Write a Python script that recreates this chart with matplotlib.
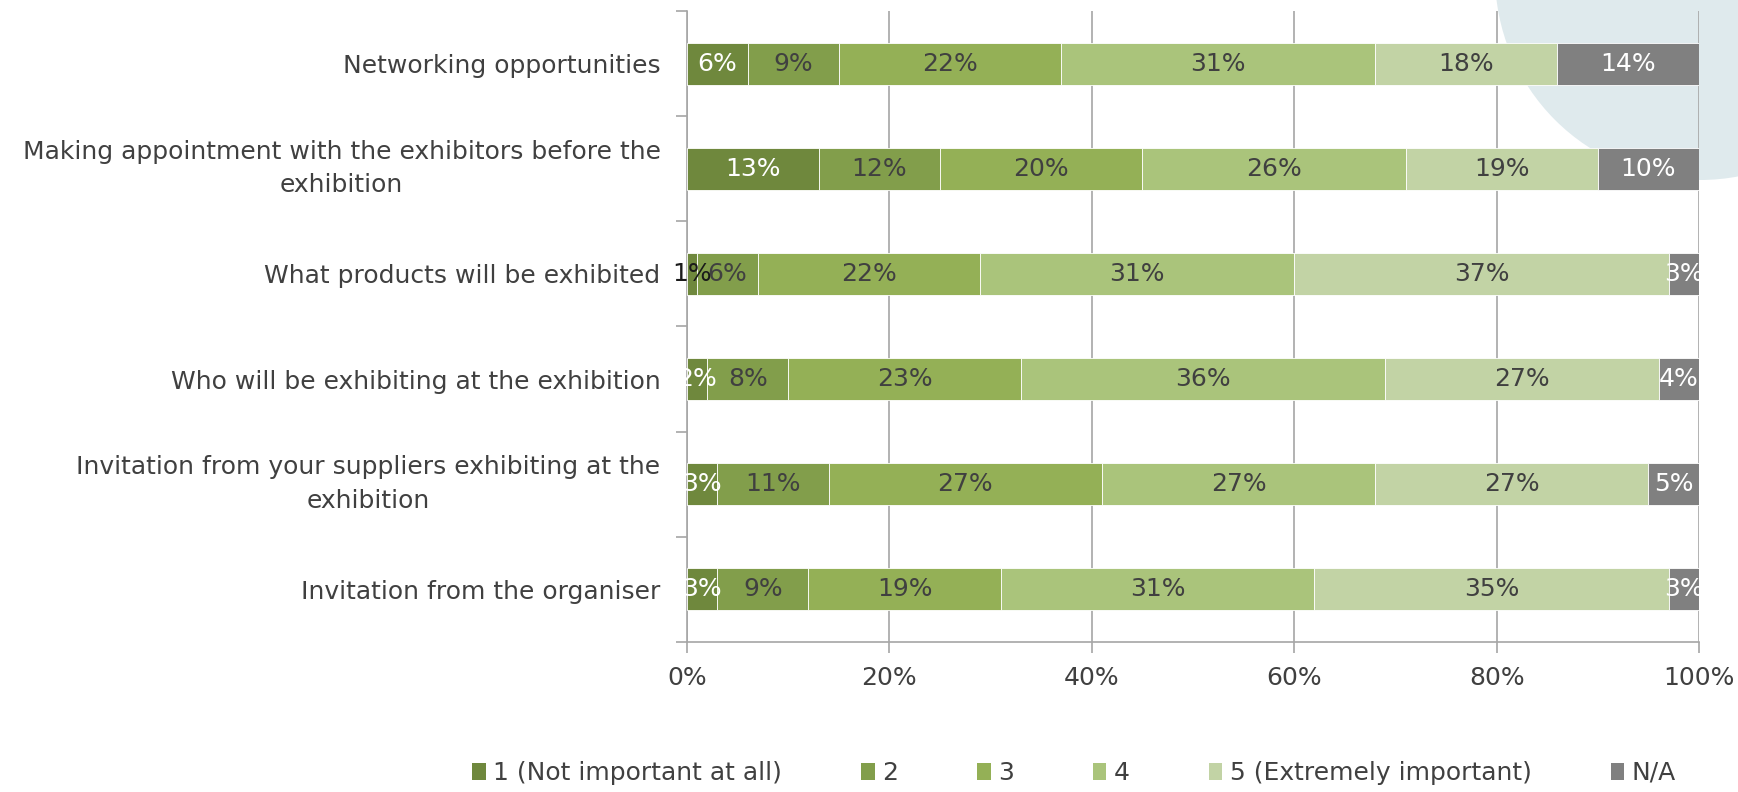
import matplotlib
matplotlib.use("Agg")
import matplotlib.pyplot as plt
from matplotlib.patches import Ellipse, Patch
import numpy as np

plt.rcParams['font.family'] = ['DejaVu Sans']

categories = [
    "Networking opportunities",
    "Making appointment with the exhibitors before the\nexhibition",
    "What products will be exhibited",
    "Who will be exhibiting at the exhibition",
    "Invitation from your suppliers exhibiting at the\nexhibition",
    "Invitation from the organiser",
]
series_names = ["1 (Not important at all)", "2", "3", "4",
                "5 (Extremely important)", "N/A"]
s1 = [6, 13, 1, 2, 3, 3]
s2 = [9, 12, 6, 8, 11, 9]
s3 = [22, 20, 22, 23, 27, 19]
s4 = [31, 26, 31, 36, 27, 31]
s5 = [18, 19, 37, 27, 27, 35]
s_na = [14, 10, 3, 4, 5, 3]
x_ticks = [0, 20, 40, 60, 80, 100]

colors = ['#6f883d', '#829e4b', '#94b056', '#aac47b', '#c2d3a5', '#808080']
text_cols = ['white', '#404040', '#404040', '#404040', '#404040', 'white']
grey = '#a6a6a6'
txt = '#404040'
fs = 18

W, H = 1738, 792
fig = plt.figure(figsize=(W / 100, H / 100), dpi=100)
fig.subplots_adjust(left=687 / W, right=1699 / W, top=1 - 11 / H, bottom=1 - 642 / H)

# pale circle in the top right corner, behind the plot
r = 205
fig.add_artist(Ellipse((1700 / W, 1 + 25 / H), 2 * r / W, 2 * r / H,
                       transform=fig.transFigure, color='#dfeaed', zorder=0, lw=0))

ax = fig.add_subplot(111)
ax.patch.set_facecolor('none')

y = np.arange(len(categories))
data = [s1, s2, s3, s4, s5, s_na]
left = np.zeros(len(categories))
for i, vals in enumerate(data):
    vals = np.array(vals, dtype=float)
    ax.barh(y, vals, left=left, height=0.4, color=colors[i],
            edgecolor='white', linewidth=0.6, zorder=3, label=series_names[i])
    for j, v in enumerate(vals):
        c = text_cols[i]
        if i == 0 and v < 2 and j == 2:
            c = '#1a1a1a'
        ax.text(left[j] + v / 2, y[j], f"{int(v)}%", ha='center', va='center',
                fontsize=fs, color=c, zorder=4)
    left += vals

ax.set_xlim(0, 100)
ax.set_ylim(len(categories) - 0.5, -0.5)
ax.set_xticks(x_ticks)
ax.set_xticklabels([f"{t}%" for t in x_ticks], fontsize=fs, color=txt)
ax.set_yticks(y)
ax.set_yticklabels(categories, fontsize=fs, color=txt)
for lab in ax.get_yticklabels():
    lab.set_multialignment('center')
    lab.set_linespacing(1.5)
    if "\n" in lab.get_text():
        lab.set_verticalalignment('center')
ax.set_yticks(np.arange(-0.5, len(categories), 1), minor=True)

ax.tick_params(axis='y', which='major', length=0, pad=19)
ax.tick_params(axis='y', which='minor', length=8, color=grey, width=1.2)
ax.tick_params(axis='x', length=8, color=grey, width=1.2, pad=9)

ax.grid(axis='x', color=grey, linewidth=1.2, zorder=0)
ax.set_axisbelow(True)
for s in ['top', 'right']:
    ax.spines[s].set_visible(False)
for s in ['left', 'bottom']:
    ax.spines[s].set_color(grey)
    ax.spines[s].set_linewidth(1.2)

handles = [Patch(facecolor=c, edgecolor='none') for c in colors]
fig.legend(handles, series_names, loc='center', ncol=6,
           bbox_to_anchor=(1074 / W, 1 - 773 / H), frameon=False,
           fontsize=fs, labelcolor=txt, handlelength=0.55, handleheight=0.7,
           handletextpad=0.3, columnspacing=3.15)

fig.savefig('out.png', dpi=100)
